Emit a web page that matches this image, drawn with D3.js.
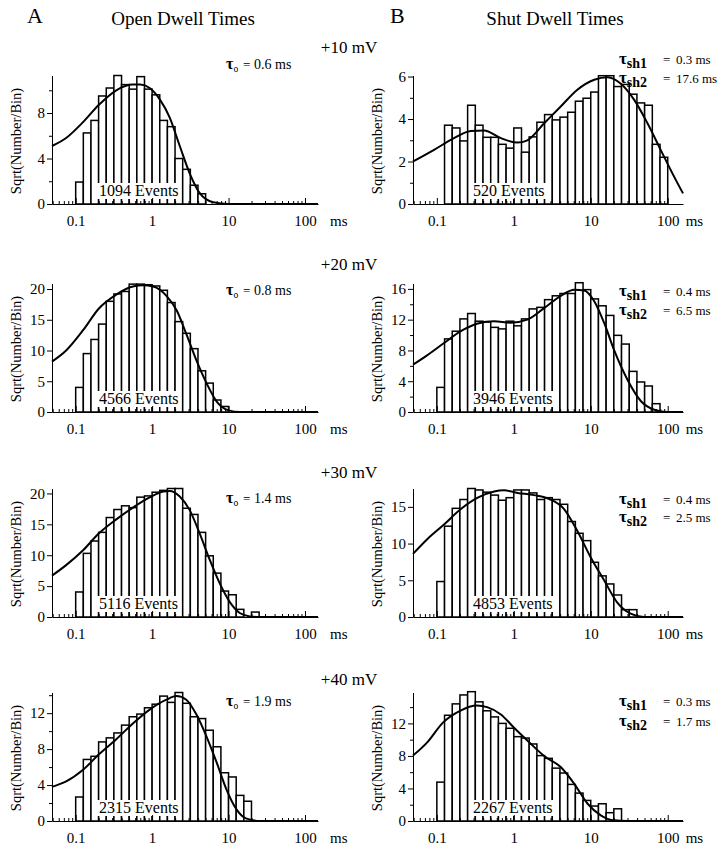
<!DOCTYPE html>
<html>
<head>
<meta charset="utf-8">
<script src="https://cdn.jsdelivr.net/npm/d3@7"></script>
<style>
  body { margin: 0; background: #fff; }
  text { font-family: "Liberation Serif", "Times New Roman", serif; }
</style>
</head>
<body>
<svg id="chart" width="723" height="853"></svg>
<script>
// ---- data ----
const voltages = ["+10 mV", "+20 mV", "+30 mV", "+40 mV"];
const xTickValues = [0.1, 1, 10, 100];

// open dwell times (sqrt of count per log bin, 10 bins/decade starting at 0.1 ms)
const openTau = ["0.6 ms", "0.8 ms", "1.4 ms", "1.9 ms"];
const openEvents = ["1094 Events", "4566 Events", "5116 Events", "2315 Events"];
const openFirstBin = [0, 0, 0, 0];
const open10 = [1.93, 6.25, 7.35, 9.5, 10.2, 11.3, 10.5, 10.1, 11.2, 10.1, 9.6, 7.35, 6.8, 4.0, 3.05, 1.65, 0.9];
const open20 = [4.0, 9.5, 11.8, 14.3, 18.0, 19.2, 19.6, 20.8, 20.8, 20.7, 20.5, 19.8, 17.8, 14.7, 12.8, 10.3, 6.7, 4.7, 1.95, 0.9];
const open30 = [4.05, 10.3, 12.3, 13.7, 16.1, 17.4, 18.0, 17.7, 19.4, 19.6, 20.2, 20.5, 20.8, 20.8, 17.6, 16.6, 13.7, 9.9, 7.1, 4.2, 3.6, 1.24, 0, 0.8];
const open40 = [2.67, 6.85, 7.2, 8.8, 9.25, 9.8, 10.67, 11.6, 11.9, 12.6, 13.0, 13.9, 13.2, 14.3, 13.1, 11.6, 11.4, 10.1, 8.26, 5.37, 4.9, 2.85, 2.2];
const openYMax = [11.3, 20.9, 20.8, 14.3];
const openYTicks = [[0, 4, 8], [0, 5, 10, 15, 20], [0, 5, 10, 15, 20], [0, 4, 8, 12]];
const openYMinor = [[2, 6, 10], [], [], [2, 6, 10, 14]];

// fitted curves, [ms, value] points
const openFit10 = [[0.049, 5.1], [0.075, 5.8], [0.125, 7.2], [0.2, 8.7], [0.34, 10.0], [0.56, 10.5], [0.7, 10.5], [0.93, 10.2], [1.26, 9.2], [1.7, 7.6], [2.3, 5.1], [3.1, 2.7], [4.2, 0.95], [6.3, 0.15], [10, 0], [148, 0]];
const openFit20 = [[0.049, 8.2], [0.075, 10.0], [0.125, 13.3], [0.2, 16.8], [0.34, 19.1], [0.56, 20.4], [0.76, 20.6], [1.03, 20.4], [1.54, 18.9], [2.1, 16.5], [2.8, 12.7], [3.8, 8.4], [5.15, 4.7], [7.0, 1.7], [10, 0.27], [14, 0], [148, 0]];
const openFit30 = [[0.049, 6.7], [0.075, 8.4], [0.125, 10.8], [0.2, 13.5], [0.34, 15.8], [0.56, 17.7], [0.93, 19.35], [1.4, 20.3], [1.7, 20.4], [2.3, 19.5], [3.1, 17.3], [4.2, 13.5], [5.7, 9.2], [7.7, 5.4], [10.4, 2.4], [14, 0.65], [19, 0.1], [26, 0], [148, 0]];
const openFit40 = [[0.049, 3.8], [0.075, 4.4], [0.125, 5.7], [0.2, 7.4], [0.34, 9.1], [0.56, 10.85], [0.93, 12.4], [1.54, 13.5], [2.08, 13.9], [2.8, 13.5], [3.8, 11.85], [5.15, 9.4], [7.0, 6.5], [9.4, 3.5], [12.7, 1.3], [17.2, 0.26], [26, 0], [148, 0]];

// shut dwell times
const shutTau1 = ["0.3 ms", "0.4 ms", "0.4 ms", "0.3 ms"];
const shutTau2 = ["17.6 ms", "6.5 ms", "2.5 ms", "1.7 ms"];
const shutEvents = ["520 Events", "3946 Events", "4853 Events", "2267 Events"];
const shutFirstBin = [1, 0, 0, 0];
const shut10 = [3.71, 3.58, 2.97, 4.65, 3.71, 3.14, 3.14, 2.81, 2.63, 3.58, 2.44, 3.16, 3.85, 4.21, 3.96, 4.09, 4.32, 4.84, 4.98, 5.27, 6.04, 6.04, 5.53, 5.63, 5.17, 4.76, 4.65, 2.81, 2.2];
const shut20 = [3.2, 9.5, 10.5, 12.1, 12.8, 11.8, 11.7, 11.0, 10.8, 11.8, 11.2, 12.1, 13.4, 13.6, 14.6, 15.1, 15.4, 15.4, 16.8, 15.9, 14.7, 13.8, 12.55, 9.96, 8.83, 5.28, 3.9, 3.38, 1.08];
const shut30 = [4.83, 12.37, 14.8, 16.0, 17.5, 17.3, 17.0, 16.6, 15.9, 16.25, 17.3, 17.3, 16.9, 16.0, 16.25, 16.0, 15.35, 13.0, 11.4, 10.4, 7.45, 5.6, 4.5, 3.0, 1.0, 1.0];
const shut40 = [4.78, 13.0, 14.4, 15.5, 15.9, 14.65, 13.55, 12.8, 12.0, 11.4, 10.37, 10.2, 9.47, 8.04, 7.7, 6.5, 5.9, 4.5, 3.43, 2.53, 1.84, 2.12, 1.02, 1.5];
const shutYMax = [6.05, 16.7, 17.5, 15.8];
const shutYTicks = [[0, 2, 4, 6], [0, 4, 8, 12, 16], [0, 5, 10, 15], [0, 4, 8, 12]];
const shutYMinor = [[1, 3, 5], [2, 6, 10, 14], [], [2, 6, 10, 14]];

const shutFit10 = [[0.049, 2.0], [0.092, 2.55], [0.167, 3.1], [0.276, 3.44], [0.41, 3.46], [0.68, 3.1], [1.12, 2.89], [1.5, 3.0], [2.48, 3.8], [4.1, 4.6], [6.7, 5.38], [11.1, 5.85], [16.5, 5.97], [24.6, 5.66], [36.7, 4.9], [54.6, 3.8], [81, 2.55], [121, 1.29], [158, 0.5]];
const shutFit20 = [[0.049, 6.15], [0.073, 7.3], [0.124, 8.96], [0.205, 10.5], [0.34, 11.5], [0.555, 11.8], [0.91, 11.6], [1.5, 12.0], [2.48, 13.5], [4.08, 15.1], [6.1, 15.9], [8.2, 15.8], [11.1, 14.4], [14.9, 11.6], [20, 8.1], [30, 4.2], [45, 1.4], [67, 0.3], [100, 0], [158, 0]];
const shutFit30 = [[0.049, 8.6], [0.075, 10.6], [0.124, 12.6], [0.205, 14.7], [0.34, 16.25], [0.555, 17.1], [0.75, 17.25], [1.12, 16.9], [1.84, 16.6], [3.0, 16.0], [4.5, 14.7], [6.7, 11.7], [10, 8.1], [14.9, 5.0], [22, 2.0], [33, 0.45], [49, 0], [158, 0]];
const shutFit40 = [[0.049, 8.04], [0.075, 9.67], [0.12, 12.1], [0.2, 13.55], [0.33, 14.2], [0.45, 14.0], [0.68, 13.1], [1.0, 11.5], [1.5, 9.9], [2.48, 8.0], [4.1, 6.6], [6.1, 4.57], [9.1, 2.12], [13.5, 0.7], [20, 0.08], [30, 0], [158, 0]];

const openCounts = [open10, open20, open30, open40];
const openFits = [openFit10, openFit20, openFit30, openFit40];
const shutCounts = [shut10, shut20, shut30, shut40];
const shutFits = [shutFit10, shutFit20, shutFit30, shutFit40];

// ---- layout ----
const svg = d3.select("#chart");
const rowBase = [204, 412, 617, 821];
const plotH = 128.5;
const serif = '"Liberation Serif", "Times New Roman", serif';
const voltY = [53, 270, 478, 685];
const openTauY = [69, 295, 503, 706];
const shutTauY = [[64, 83], [296, 315], [504, 522], [706, 726]];

const sides = {
  A: { domain: [0.049, 148], range: [52, 318], msOff: 25, evX: 99 },
  B: { domain: [0.049, 158], range: [413, 683], msOff: 18, evX: 473 }
};

function binEdge(k) { return 0.1 * Math.pow(10, k / 10); }

function drawPanel(side, row, counts, firstBin, fit, yMax, yTicks, yMinor, events) {
  const s = sides[side];
  const base = rowBase[row];
  const x = d3.scaleLog().domain(s.domain).range(s.range);
  const y = d3.scaleLinear().domain([0, yMax]).range([base, base - plotH]);
  const g = svg.append("g");

  const bins = counts.map((v, i) => ({ lo: binEdge(firstBin + i), hi: binEdge(firstBin + i + 1), v }))
    .filter(d => d.v > 0);

  g.selectAll("rect.bar").data(bins).join("rect")
    .attr("class", "bar")
    .attr("x", d => x(d.lo))
    .attr("width", d => x(d.hi) - x(d.lo))
    .attr("y", d => y(d.v))
    .attr("height", d => y(0) - y(d.v))
    .attr("fill", "#fff")
    .attr("stroke", "#000")
    .attr("stroke-width", 1.5);

  // event count label with white backing
  const box = g.append("rect").attr("fill", "#fff");
  const ev = g.append("text")
    .attr("x", s.evX).attr("y", base - 8.5)
    .attr("font-size", 16)
    .text(events);
  const w = ev.node().getComputedTextLength();
  box.attr("x", s.evX - 2).attr("width", w + 4)
    .attr("y", base - 21).attr("height", 16);

  // fitted curve
  const line = d3.line()
    .x(d => x(d[0]))
    .y(d => y(d[1]))
    .curve(d3.curveMonotoneX);
  g.append("path").datum(fit)
    .attr("d", line)
    .attr("fill", "none")
    .attr("stroke", "#000")
    .attr("stroke-width", 2);

  // x axis: ticks pointing inward
  const minors = [];
  [0.01, 0.1, 1, 10, 100].forEach(d => {
    for (let m = 2; m <= 9; m++) {
      const v = d * m;
      if (v >= s.domain[0] && v <= s.domain[1]) minors.push(v);
    }
  });
  const xa = g.append("g").attr("transform", `translate(0,${base})`)
    .call(d3.axisBottom(x).tickValues(xTickValues).tickFormat(d => String(d))
      .tickSizeInner(-6).tickSizeOuter(0).tickPadding(11));
  const xm = g.append("g").attr("transform", `translate(0,${base})`)
    .call(d3.axisBottom(x).tickValues(minors).tickFormat("").tickSize(-3));
  xm.select(".domain").remove();
  g.append("text")
    .attr("x", x(100) + s.msOff).attr("y", base + 22)
    .attr("font-size", 15)
    .text("ms");

  // y axis
  const ya = g.append("g").attr("transform", `translate(${s.range[0]},0)`)
    .call(d3.axisLeft(y).tickValues(yTicks).tickFormat(d => String(d))
      .tickSizeInner(5).tickSizeOuter(0).tickPadding(2));
  const ym = g.append("g").attr("transform", `translate(${s.range[0]},0)`)
    .call(d3.axisLeft(y).tickValues(yMinor).tickFormat("").tickSize(3));
  ym.select(".domain").remove();

  [xa, xm, ya, ym].forEach(a => {
    a.attr("font-family", serif).attr("font-size", 15);
    a.selectAll("path,line").attr("stroke", "#000").attr("stroke-width", 1);
    a.selectAll("text").attr("fill", "#000");
  });

  g.append("text")
    .attr("transform", `translate(${s.range[0] - 36},${base - 63}) rotate(-90)`)
    .attr("text-anchor", "middle")
    .attr("dy", "0.35em")
    .attr("font-size", 14.5)
    .text("Sqrt(Number/Bin)");
}

for (let r = 0; r < 4; r++) {
  drawPanel("A", r, openCounts[r], openFirstBin[r], openFits[r], openYMax[r], openYTicks[r], openYMinor[r], openEvents[r]);
  drawPanel("B", r, shutCounts[r], shutFirstBin[r], shutFits[r], shutYMax[r], shutYTicks[r], shutYMinor[r], shutEvents[r]);

  svg.append("text")
    .attr("x", 349).attr("y", voltY[r])
    .attr("text-anchor", "middle")
    .attr("font-size", 17)
    .text(voltages[r]);

  // open time constant
  const ta = svg.append("text").attr("x", 226).attr("y", openTauY[r]);
  ta.append("tspan").attr("font-weight", "bold").attr("font-size", 16).text("τ");
  ta.append("tspan").attr("font-size", 9.5).attr("dy", 3).text("o");
  svg.append("text").attr("x", 243).attr("y", openTauY[r]).attr("font-size", 13)
    .text("=");
  svg.append("text").attr("x", 254).attr("y", openTauY[r]).attr("font-size", 14)
    .text(openTau[r]);

  // shut time constants
  [["sh1", shutTau1[r]], ["sh2", shutTau2[r]]].forEach((p, i) => {
    const ty = shutTauY[r][i];
    const t = svg.append("text").attr("x", 619).attr("y", ty);
    t.append("tspan").attr("font-weight", "bold").attr("font-size", 17).text("τ");
    t.append("tspan").attr("font-weight", "bold").attr("font-size", 14).attr("dy", 4).text(p[0]);
    svg.append("text").attr("x", 663).attr("y", ty).attr("font-size", 13).text("=");
    svg.append("text").attr("x", 676).attr("y", ty).attr("font-size", 13).text(p[1]);
  });
}

// headings
svg.append("text").attr("x", 27).attr("y", 23).attr("font-size", 22).text("A");
svg.append("text").attr("x", 183).attr("y", 25).attr("text-anchor", "middle").attr("font-size", 19).text("Open Dwell Times");
svg.append("text").attr("x", 390).attr("y", 23).attr("font-size", 22).text("B");
svg.append("text").attr("x", 555).attr("y", 25).attr("text-anchor", "middle").attr("font-size", 19).text("Shut Dwell Times");
</script>
</body>
</html>
